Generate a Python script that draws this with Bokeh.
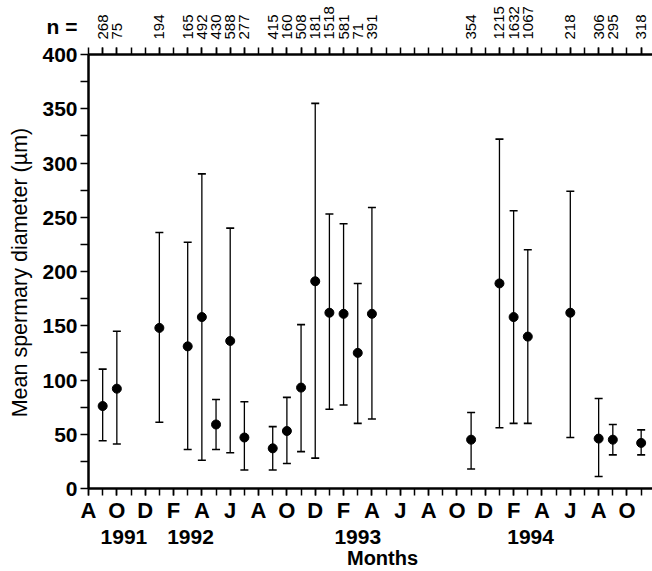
from bokeh.plotting import figure
from bokeh.models import (ColumnDataSource, FixedTicker, LinearAxis, Range1d,
                          Whisker, TeeHead)
from bokeh.embed import file_html
from bokeh.resources import INLINE

# ---- data (month index: 0 = Aug 1991) ----
months = [1, 2, 5, 7, 8, 9, 10, 11, 13, 14, 15, 16, 17, 18, 19, 20, 27, 29, 30, 31, 34, 36, 37, 39]
mean = [76, 92, 148, 131, 158, 59, 136, 47, 37, 53, 93, 191, 162, 161, 125, 161, 45, 189, 158, 140, 162, 46, 45, 42]
upper = [110, 145, 236, 227, 290, 82, 240, 80, 57, 84, 151, 355, 253, 244, 189, 259, 70, 322, 256, 220, 274, 83, 59, 54]
lower = [44, 41, 61, 36, 26, 36, 33, 17, 17, 23, 34, 28, 73, 77, 60, 64, 18, 56, 60, 60, 47, 11, 31, 31]
n_values = [268, 75, 194, 165, 492, 430, 588, 277, 415, 160, 508, 181, 1518, 581, 71, 391,
            354, 1215, 1632, 1067, 218, 306, 295, 318]
n_caption = "n ="

month_tick_pos = list(range(0, 40, 2))
month_tick_labels = ["A", "O", "D", "F", "A", "J", "A", "O", "D", "F",
                     "A", "J", "A", "O", "D", "F", "A", "J", "A", "O"]
all_months = list(range(0, 40))
year_labels = ["1991", "1992", "1993", "1994"]
year_pos = [2.5, 7.2, 19.0, 31.2]
y_ticks = [0, 50, 100, 150, 200, 250, 300, 350, 400]
y_minor = [25, 75, 125, 175, 225, 275, 325, 375]
y_title = "Mean spermary diameter (\u00b5m)"
y_title_pos = 199
x_title = "Months"
x_title_pos = 20.75

FONT = "Liberation Sans"

src = ColumnDataSource(dict(m=months, mean=mean, upper=upper, lower=lower))

p = figure(width=652, height=571, output_backend="svg", toolbar_location=None,
           x_range=Range1d(0, 39.8), y_range=Range1d(0, 400),
           min_border_left=88, min_border_right=0, min_border_top=54, min_border_bottom=82,
           x_axis_location=None, y_axis_location=None)
p.outline_line_color = None
p.xgrid.visible = False
p.ygrid.visible = False
p.background_fill_color = "white"
p.border_fill_color = "white"


def bare(ax):
    ax.axis_line_color = None
    ax.major_tick_line_color = None
    ax.minor_tick_line_color = None
    ax.major_tick_out = 0
    ax.major_tick_in = 0
    ax.minor_tick_out = 0
    ax.minor_tick_in = 0
    ax.major_label_text_color = "black"
    ax.major_label_text_font = FONT


def ticked(ax, out):
    ax.axis_line_width = 2.5
    ax.major_tick_out = out
    ax.major_tick_in = 0
    ax.minor_tick_out = out
    ax.minor_tick_in = 0
    ax.major_tick_line_width = 1.5
    ax.minor_tick_line_width = 1.5
    ax.major_label_text_font = FONT
    ax.major_label_text_color = "black"


# ---- left: tick axis (the top label also carries the "n =" caption above it) ----
yax = LinearAxis(ticker=FixedTicker(ticks=y_ticks, minor_ticks=y_minor))
ticked(yax, 8)
yax.major_label_overrides = {y_ticks[-1]: n_caption + "\n" + str(y_ticks[-1]) + "\n "}
yax.major_label_text_font_style = "bold"
yax.major_label_text_font_size = "21px"
yax.major_label_standoff = 3
p.add_layout(yax, "left")

# ---- left: title axis ----
ytax = LinearAxis(ticker=FixedTicker(ticks=[y_title_pos], minor_ticks=[]))
bare(ytax)
ytax.major_label_overrides = {y_title_pos: y_title}
ytax.major_label_orientation = "vertical"
ytax.major_label_text_font_size = "21.5px"
ytax.major_label_standoff = 7
p.add_layout(ytax, "left")

# ---- bottom: months ----
xax = LinearAxis(ticker=FixedTicker(ticks=month_tick_pos, minor_ticks=all_months))
ticked(xax, 7)
xax.major_label_overrides = {pos: lab for pos, lab in zip(month_tick_pos, month_tick_labels)}
xax.major_label_text_font_style = "bold"
xax.major_label_text_font_size = "22px"
xax.major_label_standoff = 2
p.add_layout(xax, "below")

# ---- bottom: years ----
yrax = LinearAxis(ticker=FixedTicker(ticks=year_pos, minor_ticks=[]))
bare(yrax)
yrax.major_label_overrides = {pos: lab for pos, lab in zip(year_pos, year_labels)}
yrax.major_label_text_font_style = "bold"
yrax.major_label_text_font_size = "21px"
yrax.major_label_standoff = 4
p.add_layout(yrax, "below")

# ---- bottom: x title ----
mtax = LinearAxis(ticker=FixedTicker(ticks=[x_title_pos], minor_ticks=[]))
bare(mtax)
mtax.major_label_overrides = {x_title_pos: x_title}
mtax.major_label_text_font_style = "bold"
mtax.major_label_text_font_size = "20px"
mtax.major_label_standoff = 0
p.add_layout(mtax, "below")

# ---- top: ticks + n labels ----
tax = LinearAxis(ticker=FixedTicker(ticks=months, minor_ticks=all_months))
ticked(tax, 7)
tax.major_label_overrides = {m: str(v) for m, v in zip(months, n_values)}
tax.major_label_orientation = "vertical"
tax.major_label_text_font_size = "15px"
tax.major_label_standoff = 8
p.add_layout(tax, "above")

# ---- error bars and points ----
w = Whisker(base="m", upper="upper", lower="lower", source=src, dimension="height",
            line_width=1.3, line_color="black",
            upper_head=TeeHead(size=8, line_width=1.6, line_color="black"),
            lower_head=TeeHead(size=8, line_width=1.6, line_color="black"))
p.add_layout(w)
p.scatter("m", "mean", source=src, size=9, color="black")

open("out.html", "w").write(file_html(p, INLINE))
